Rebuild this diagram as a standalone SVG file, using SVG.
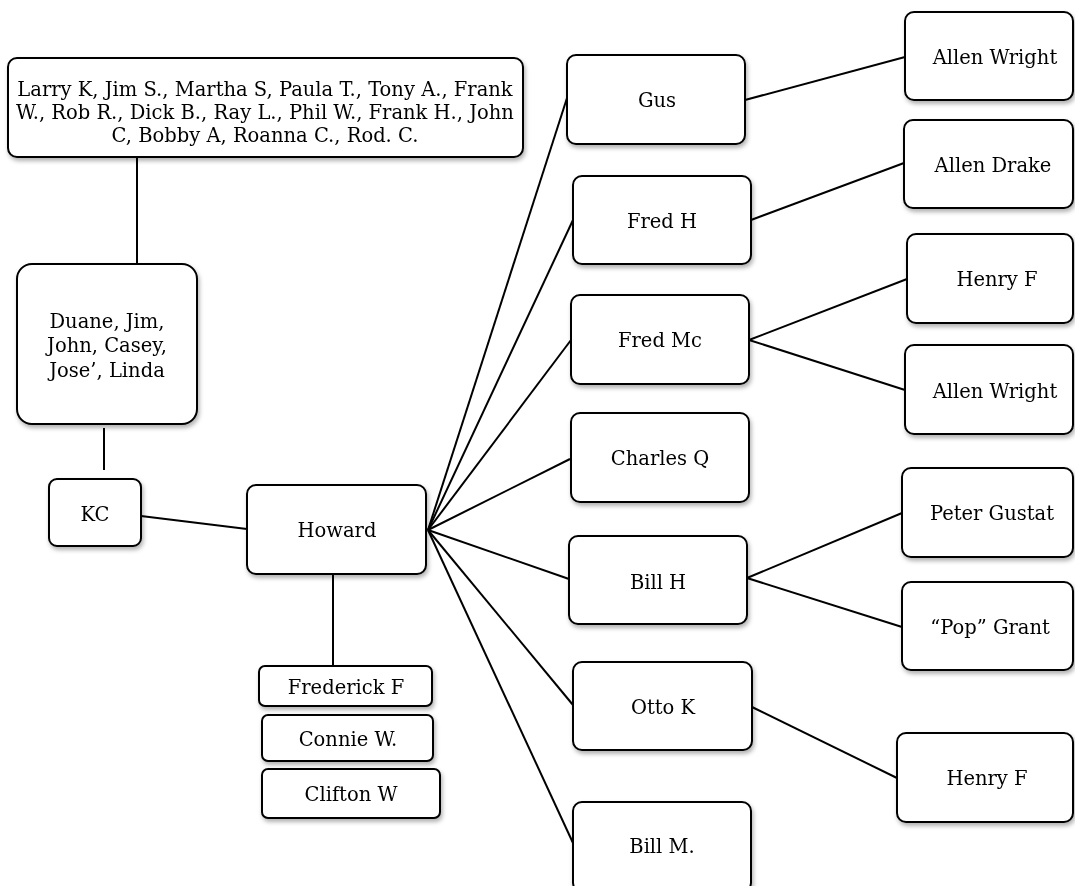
<svg xmlns="http://www.w3.org/2000/svg" width="1075" height="886" viewBox="0 0 1075 886">
<defs>
<filter id="sh" x="-10%" y="-10%" width="130%" height="140%">
<feDropShadow dx="1.5" dy="3" stdDeviation="2" flood-color="#000" flood-opacity="0.3"/>
</filter>
<style>
.box{fill:#fff;stroke:#000;stroke-width:2}
.t{font-family:"DejaVu Serif","Liberation Serif",serif;font-size:19.5px;fill:#000;text-anchor:middle}
.c line{stroke:#000;stroke-width:2}
.n{filter:url(#sh)}
</style>
</defs>
<rect width="1075" height="886" fill="#fff"/>
<g class="c" id="connectors">
<line x1="137" y1="157" x2="137" y2="264"/>
<line x1="104" y1="428" x2="104" y2="470"/>
<line x1="141" y1="516" x2="247" y2="529"/>
<line x1="333" y1="574" x2="333" y2="666"/>
<line x1="428" y1="530" x2="567" y2="98"/>
<line x1="428" y1="530" x2="573" y2="220"/>
<line x1="428" y1="530" x2="571" y2="340"/>
<line x1="428" y1="530" x2="570" y2="459"/>
<line x1="428" y1="530" x2="569" y2="579"/>
<line x1="428" y1="530" x2="573" y2="705"/>
<line x1="428" y1="530" x2="573" y2="843"/>
<line x1="745" y1="100" x2="905" y2="57"/>
<line x1="751" y1="220" x2="904" y2="163"/>
<line x1="749" y1="340" x2="907" y2="279"/>
<line x1="749" y1="340" x2="905" y2="390"/>
<line x1="747" y1="578" x2="902" y2="513"/>
<line x1="747" y1="578" x2="902" y2="627"/>
<line x1="752" y1="707" x2="897" y2="778"/>
</g>
<g id="group-top" class="n"><rect class="box" x="8" y="58" width="515" height="99" rx="9"/>
<text class="t" x="265" y="96">Larry K, Jim S., Martha S, Paula T., Tony A., Frank</text>
<text class="t" x="265" y="119">W., Rob R., Dick B., Ray L., Phil W., Frank H., John</text>
<text class="t" x="265" y="142">C, Bobby A, Roanna C., Rod. C.</text></g>
<g id="group-duane" class="n"><rect class="box" x="17" y="264" width="180" height="160" rx="15"/>
<text class="t" x="107" y="328">Duane, Jim,</text>
<text class="t" x="107" y="352">John, Casey,</text>
<text class="t" x="107" y="377">Jose’, Linda</text></g>
<g id="kc" class="n"><rect class="box" x="49" y="479" width="92" height="67" rx="8"/><text class="t" x="95" y="521">KC</text></g>
<g id="howard" class="n"><rect class="box" x="247" y="485" width="179" height="89" rx="9"/><text class="t" x="337" y="537">Howard</text></g>
<g id="frederick" class="n"><rect class="box" x="259" y="666" width="173" height="40" rx="6"/><text class="t" x="346" y="694">Frederick F</text></g>
<g id="connie" class="n"><rect class="box" x="262" y="715" width="171" height="46" rx="6"/><text class="t" x="348" y="746">Connie W.</text></g>
<g id="clifton" class="n"><rect class="box" x="262" y="769" width="178" height="49" rx="6"/><text class="t" x="351" y="801">Clifton W</text></g>
<g id="gus" class="n"><rect class="box" x="567" y="55" width="178" height="89" rx="9"/><text class="t" x="657" y="107">Gus</text></g>
<g id="fredh" class="n"><rect class="box" x="573" y="176" width="178" height="88" rx="9"/><text class="t" x="662" y="228">Fred H</text></g>
<g id="fredmc" class="n"><rect class="box" x="571" y="295" width="178" height="89" rx="9"/><text class="t" x="660" y="347">Fred Mc</text></g>
<g id="charlesq" class="n"><rect class="box" x="571" y="413" width="178" height="89" rx="9"/><text class="t" x="660" y="465">Charles Q</text></g>
<g id="billh" class="n"><rect class="box" x="569" y="536" width="178" height="88" rx="9"/><text class="t" x="658" y="589">Bill H</text></g>
<g id="ottok" class="n"><rect class="box" x="573" y="662" width="179" height="88" rx="9"/><text class="t" x="663" y="714">Otto K</text></g>
<g id="billm" class="n"><rect class="box" x="573" y="802" width="178" height="90" rx="9"/><text class="t" x="662" y="853">Bill M.</text></g>
<g id="allenwright1" class="n"><rect class="box" x="905" y="12" width="168" height="88" rx="9"/><text class="t" x="995" y="64">Allen Wright</text></g>
<g id="allendrake" class="n"><rect class="box" x="904" y="120" width="169" height="88" rx="9"/><text class="t" x="993" y="172">Allen Drake</text></g>
<g id="henryf1" class="n"><rect class="box" x="907" y="234" width="166" height="89" rx="9"/><text class="t" x="997" y="286">Henry F</text></g>
<g id="allenwright2" class="n"><rect class="box" x="905" y="345" width="168" height="89" rx="9"/><text class="t" x="995" y="398">Allen Wright</text></g>
<g id="petergustat" class="n"><rect class="box" x="902" y="468" width="171" height="89" rx="9"/><text class="t" x="992" y="520">Peter Gustat</text></g>
<g id="popgrant" class="n"><rect class="box" x="902" y="582" width="171" height="88" rx="9"/><text class="t" x="990" y="634">“Pop” Grant</text></g>
<g id="henryf2" class="n"><rect class="box" x="897" y="733" width="176" height="89" rx="9"/><text class="t" x="987" y="785">Henry F</text></g>
</svg>
